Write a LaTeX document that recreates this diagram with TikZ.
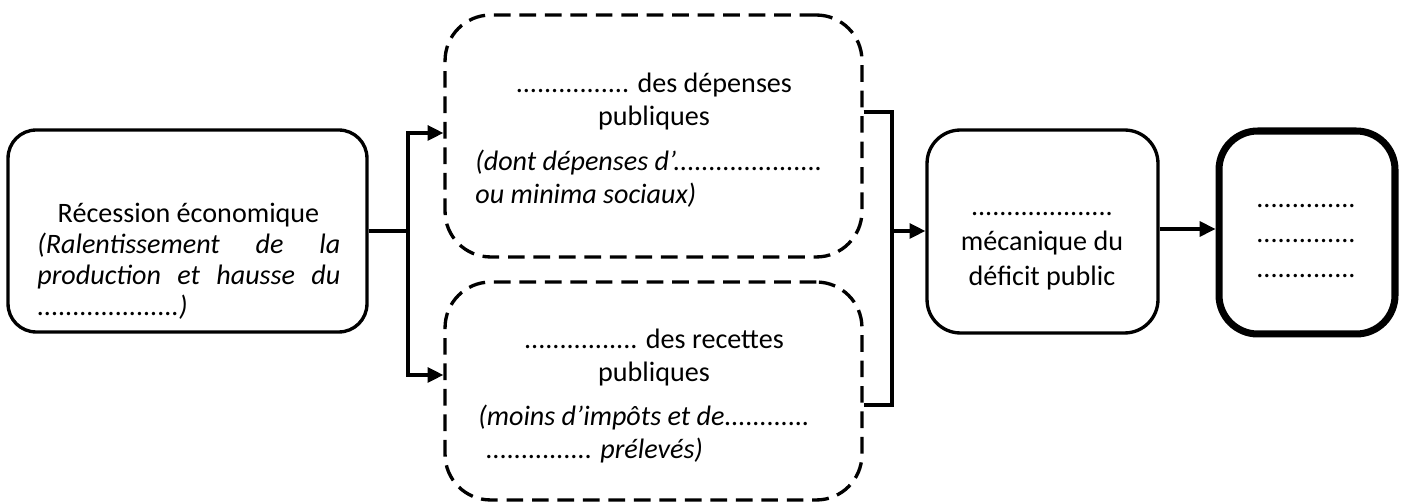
\documentclass[tikz,border=0pt]{standalone}
\usepackage{fontspec}
\setmainfont{Carlito}
\usetikzlibrary{arrows.meta}

\tikzset{
  box/.style={draw, line width=1.9pt, rounded corners=16pt, inner sep=0pt},
  dashbox/.style={box, rounded corners=26pt, dash pattern=on 9.5pt off 5pt},
  link/.style={line width=1.9pt},
  arr/.style={link, -{Triangle[length=9pt, width=8.5pt]}},
  txt/.style={inner sep=0pt, font=\fontsize{16}{18.8}\selectfont, align=center},
  note/.style={txt, font=\fontsize{16}{18.8}\selectfont\itshape, align=left, anchor=west},
}

\begin{document}
\begin{tikzpicture}[x=0.02cm, y=-0.02cm]

    \useasboundingbox (0,0) rectangle (1405,502);

    %% Boxes

    % Recession
    \node[box, minimum width=7.18cm, minimum height=4.04cm] (rec) at (187.5,231) {};
    \node[txt] (recTitle) at (188.5,215) {Récession économique};
    \node[note, text width=6.06cm, font=\fontsize{16}{17.5}\selectfont\itshape] (recNote) at (37,276)
        {(Ralentissement\hfill de\hfill la\\
         production\hfill et\hfill hausse\hfill du\\
         ....................)};

    % Public spending
    \node[dashbox, minimum width=8.34cm, minimum height=4.84cm] (dep) at (653.5,136) {};
    \node[txt] (depTitle) at (654,101.5) {................ des dépenses\\ publiques};
    \node[note] (depNote) at (475,179) {(dont dépenses d’.....................\\ ou minima sociaux)};

    % Public revenue
    \node[dashbox, minimum width=8.34cm, minimum height=4.36cm] (rcp) at (653.5,391) {};
    \node[txt] (rcpTitle) at (654,357.5) {................ des recettes\\ publiques};
    \node[note] (rcpNote) at (478,434) {(moins d’impôts et de............\\ \hspace*{4pt}{\upshape ...............} prélevés)};

    % Deficit
    \node[box, rounded corners=19pt, minimum width=4.62cm, minimum height=4.06cm] (mec) at (1042.5,231.5) {};
    \node[txt, font=\fontsize{16}{20}\selectfont] (mecText) at (1042,251) {....................\\ mécanique du\\ déficit public};

    % Outcome
    \node[box, line width=4pt, rounded corners=22pt, minimum width=3.52cm, minimum height=4.06cm] (res) at (1307,232.5) {};
    \node[txt, font=\fontsize{16}{20}\selectfont] (resText) at (1306,241) {..............\\ ..............\\ ..............};

    %% Connectors

    % Split towards spending and revenue
    \coordinate (split) at (408,231);
    \draw[link] (rec.east) -- (split);
    \draw[arr] (split) |- (dep.west |- 0,133);
    \draw[arr] (split) |- (rcp.west |- 0,375);

    % Join into the deficit
    \coordinate (join) at (892,231);
    \draw[link] (dep.east |- 0,112) -| (join) |- (rcp.east |- 0,405);
    \draw[arr] (join) -- (join -| mec.west);

    % Deficit to outcome
    \draw[arr] (mec.east |- 0,229) -- (res.west |- 0,229);

\end{tikzpicture}
\end{document}
